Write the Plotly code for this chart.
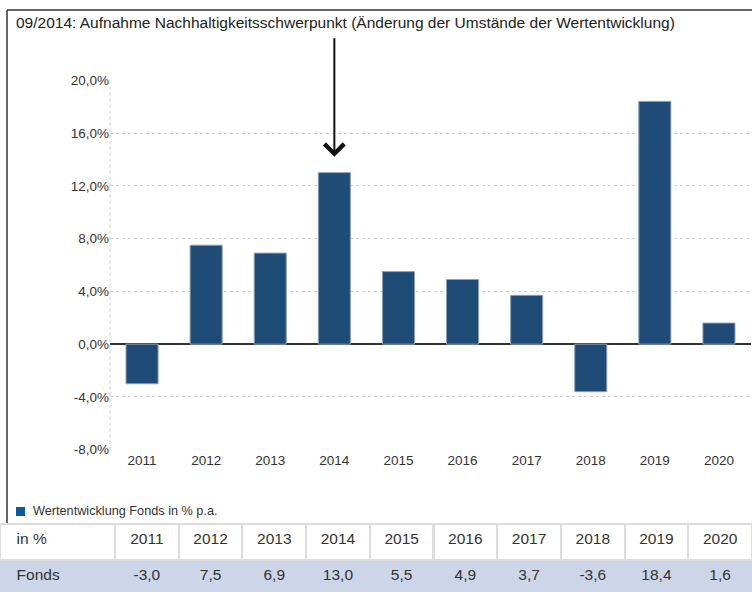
import plotly.graph_objects as go

years = ["2011", "2012", "2013", "2014", "2015", "2016", "2017", "2018", "2019", "2020"]
fonds = [-3.0, 7.5, 6.9, 13.0, 5.5, 4.9, 3.7, -3.6, 18.4, 1.6]
y_tickvals = [-8, -4, 0, 4, 8, 12, 16, 20]
y_ticktext = ["-8,0%", "-4,0%", "0,0%", "4,0%", "8,0%", "12,0%", "16,0%", "20,0%"]
title_text = "09/2014: Aufnahme Nachhaltigkeitsschwerpunkt (Änderung der Umstände der Wertentwicklung)"
legend_text = "Wertentwicklung Fonds in % p.a."
row_header = "in %"
row_label = "Fonds"
arrow_year = "2014"
arrow_tip = 14.2

W, H = 752, 592
FONT = "Liberation Sans, Arial, sans-serif"
BAR = "#1f4b77"
PAD = "\u00a0\u00a0"


def px(x):
    return x / W


def py(y):
    return 1 - y / H


def fmt(v):
    return f"{v:.1f}".replace(".", ",")


fig = go.Figure()
fig.add_trace(go.Bar(
    x=years, y=fonds,
    marker=dict(color=BAR, line=dict(color="#8aa0ba", width=1)),
    showlegend=False, hoverinfo="skip",
))

fig.add_trace(go.Table(
    domain=dict(x=[0, 1], y=[0, py(524)]),
    columnwidth=[115] + [63.7] * len(years),
    header=dict(
        values=[PAD + row_header] + years,
        fill_color="white",
        line=dict(color="#dddddd", width=2),
        font=dict(family=FONT, size=15.5, color="#333333"),
        align=["left"] + ["center"] * len(years),
        height=36,
    ),
    cells=dict(
        values=[[PAD + row_label]] + [[fmt(v)] for v in fonds],
        fill_color="#cdd5e8",
        line=dict(color="#cdd5e8", width=1),
        font=dict(family=FONT, size=15.5, color="#333333"),
        align=["left"] + ["center"] * len(years),
        height=32,
    ),
))

shapes = [
    # outer frame lines
    dict(type="line", xref="paper", yref="paper", x0=px(7), x1=1.0, y0=py(10), y1=py(10),
         line=dict(color="#333333", width=1.5)),
    dict(type="line", xref="paper", yref="paper", x0=px(7), x1=px(7), y0=py(10), y1=py(523),
         line=dict(color="#333333", width=1.5)),
    # left dotted axis line
    dict(type="line", xref="x domain", yref="y", x0=0, x1=0, y0=-8, y1=20,
         line=dict(color="#cccccc", width=1, dash="dot")),
    # legend swatch
    dict(type="rect", xref="paper", yref="paper", x0=px(16), x1=px(25), y0=py(516), y1=py(507),
         fillcolor="#0d5aa0", line=dict(width=0)),
]

annotations = [
    dict(text=title_text, xref="paper", yref="paper", x=px(14), y=py(22),
         xanchor="left", yanchor="middle", showarrow=False,
         font=dict(family=FONT, size=15.5, color="#222222")),
    dict(text=legend_text, xref="paper", yref="paper", x=px(31), y=py(511),
         xanchor="left", yanchor="middle", showarrow=False,
         font=dict(family=FONT, size=12.7, color="#333333")),
    dict(text="", x=years.index(arrow_year), y=arrow_tip, xref="x", yref="y",
         ax=0, ay=-120, showarrow=True, arrowhead=4, arrowsize=1.9,
         arrowwidth=2, arrowcolor="#111111"),
]

fig.update_layout(
    width=W, height=H,
    margin=dict(l=0, r=0, t=0, b=0, autoexpand=False),
    paper_bgcolor="white", plot_bgcolor="white",
    bargap=0.5,
    shapes=shapes, annotations=annotations,
    font=dict(family=FONT, size=13, color="#333333"),
    xaxis=dict(type="category", domain=[px(110), px(751)], range=[-0.5, len(years) - 0.5],
               showgrid=False, showline=False,
               ticks="", tickfont=dict(size=13.5, color="#333333")),
    yaxis=dict(domain=[py(450), py(80)], range=[-8.02, 20.02],
               tickvals=y_tickvals, ticktext=y_ticktext,
               showgrid=True, gridcolor="#d0d0d0", griddash="dot", gridwidth=1,
               zeroline=True, zerolinecolor="#333333", zerolinewidth=1.5,
               tickfont=dict(size=13.5, color="#333333"), ticks=""),
)

fig.write_html("out.html")
